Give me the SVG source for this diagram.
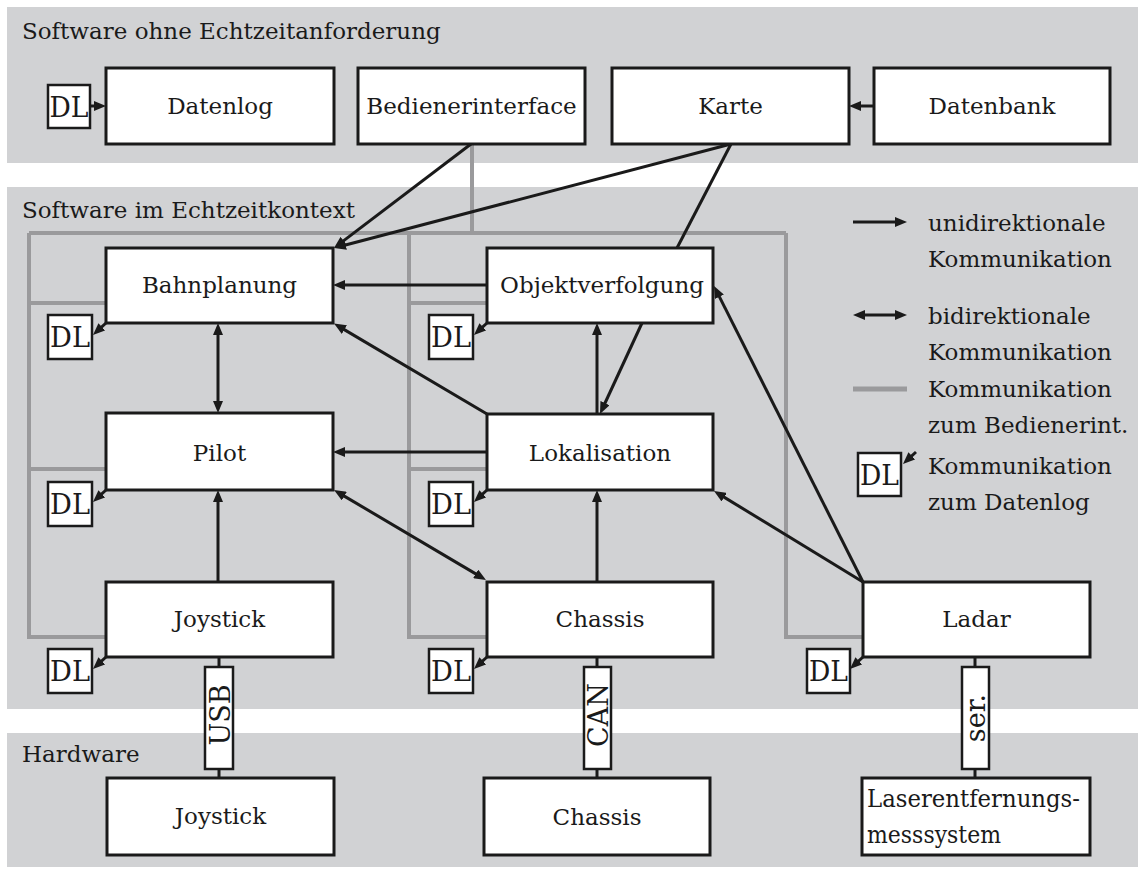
<svg xmlns="http://www.w3.org/2000/svg" width="1138" height="873" viewBox="0 0 1138 873">
<defs>
<style>
.band{fill:#d1d2d4}
.box{fill:#fff;stroke:#1a1a1a;stroke-width:3}
.dl{fill:#fff;stroke:#1a1a1a;stroke-width:2.5}
.t{font-family:"DejaVu Serif","Liberation Serif",serif;font-size:23px;fill:#1a1a1a}
.c{text-anchor:middle}
.dlt{font-family:"DejaVu Serif","Liberation Serif",serif;font-size:28px;fill:#1a1a1a;text-anchor:middle}
.vt{font-family:"DejaVu Serif","Liberation Serif",serif;font-size:27px;fill:#1a1a1a;text-anchor:middle}
.a{stroke:#1a1a1a;stroke-width:3;fill:none}
.g{stroke:#9a9a9c;stroke-width:4;fill:none}
</style>
<marker id="ah" viewBox="0 0 12 10" refX="6" refY="5" markerWidth="12" markerHeight="10" markerUnits="userSpaceOnUse" orient="auto-start-reverse"><path d="M0,0 L12,5 L0,10 z" fill="#1a1a1a"/></marker>
</defs>

<g id="bands">
<rect class="band" x="7" y="7" width="1131" height="156"/>
<rect class="band" x="7" y="187" width="1131" height="522"/>
<rect class="band" x="7" y="733" width="1131" height="134"/>
<text class="t" x="22" y="39">Software ohne Echtzeitanforderung</text>
<text class="t" x="22" y="218">Software im Echtzeitkontext</text>
<text class="t" x="22" y="762">Hardware</text>
</g>

<g id="gray-connectors">
<path class="g" d="M472,144 V233 M29,233 H786 M29,233 V637 H106 M409,233 V637 H487 M786,233 V637 H863 M29,303 H106 M29,469 H106 M409,303 H487 M409,469 H487"/>
</g>

<g id="connectors">
<line class="a" x1="90" y1="106" x2="100" y2="106" marker-end="url(#ah)"/>
<line class="a" x1="874" y1="106" x2="855" y2="106" marker-end="url(#ah)"/>
<line class="a" x1="471" y1="144" x2="338.8" y2="244.4" marker-end="url(#ah)"/>
<line class="a" x1="731" y1="144" x2="339.8" y2="246.5" marker-end="url(#ah)"/>
<line class="a" x1="731" y1="144" x2="677" y2="248"/>
<line class="a" x1="487" y1="285" x2="339" y2="285" marker-end="url(#ah)"/>
<line class="a" x1="487" y1="414" x2="339.2" y2="326.6" marker-end="url(#ah)"/>
<line class="a" x1="218" y1="329" x2="218" y2="407" marker-start="url(#ah)" marker-end="url(#ah)"/>
<line class="a" x1="487" y1="452" x2="339" y2="452" marker-end="url(#ah)"/>
<line class="a" x1="597" y1="414" x2="597" y2="329" marker-end="url(#ah)"/>
<line class="a" x1="642" y1="323" x2="602.5" y2="408.5" marker-end="url(#ah)"/>
<line class="a" x1="218" y1="582" x2="218" y2="496" marker-end="url(#ah)"/>
<line class="a" x1="339.2" y1="493.1" x2="480.8" y2="576.9" marker-start="url(#ah)" marker-end="url(#ah)"/>
<line class="a" x1="597" y1="582" x2="597" y2="496" marker-end="url(#ah)"/>
<line class="a" x1="863" y1="582" x2="719.1" y2="494.1" marker-end="url(#ah)"/>
<line class="a" x1="863" y1="582" x2="716.7" y2="291.4" marker-end="url(#ah)"/>
<line class="a" x1="106" y1="323" x2="97.4" y2="330.9" marker-end="url(#ah)"/>
<line class="a" x1="106" y1="490" x2="97.4" y2="497.9" marker-end="url(#ah)"/>
<line class="a" x1="106" y1="657" x2="97.4" y2="664.9" marker-end="url(#ah)"/>
<line class="a" x1="487" y1="323" x2="478.4" y2="330.9" marker-end="url(#ah)"/>
<line class="a" x1="487" y1="490" x2="478.4" y2="497.9" marker-end="url(#ah)"/>
<line class="a" x1="487" y1="657" x2="478.4" y2="664.9" marker-end="url(#ah)"/>
<line class="a" x1="863" y1="657" x2="854.4" y2="664.9" marker-end="url(#ah)"/>
<path class="a" d="M219,657 V667 M219,769 V778 M597,657 V667 M597,769 V778 M975,657 V667 M975,769 V778"/>
</g>

<g id="dl-top"><rect class="dl" x="48" y="85" width="42" height="43"/><text class="dlt" x="69" y="117" textLength="39" lengthAdjust="spacingAndGlyphs">DL</text></g>
<g id="datenlog"><rect class="box" x="106" y="68" width="228" height="76"/><text class="t c" x="220" y="114">Datenlog</text></g>
<g id="bedienerinterface"><rect class="box" x="358" y="68" width="227" height="76"/><text class="t c" x="471.5" y="114">Bedienerinterface</text></g>
<g id="karte"><rect class="box" x="612" y="68" width="237" height="76"/><text class="t c" x="730.5" y="114">Karte</text></g>
<g id="datenbank"><rect class="box" x="874" y="68" width="236" height="76"/><text class="t c" x="992" y="114">Datenbank</text></g>

<g id="bahnplanung"><rect class="box" x="106" y="248" width="227" height="75"/><text class="t c" x="219.5" y="293">Bahnplanung</text></g>
<g id="dl-bahnplanung"><rect class="dl" x="48" y="315" width="44" height="44"/><text class="dlt" x="70" y="347" textLength="40" lengthAdjust="spacingAndGlyphs">DL</text></g>
<g id="objektverfolgung"><rect class="box" x="487" y="248" width="226" height="75"/><text class="t c" x="602" y="293">Objektverfolgung</text></g>
<g id="dl-objektverfolgung"><rect class="dl" x="429" y="315" width="44" height="44"/><text class="dlt" x="451" y="347" textLength="40" lengthAdjust="spacingAndGlyphs">DL</text></g>

<g id="pilot"><rect class="box" x="106" y="413" width="227" height="77"/><text class="t c" x="219.5" y="461">Pilot</text></g>
<g id="dl-pilot"><rect class="dl" x="48" y="482" width="44" height="44"/><text class="dlt" x="70" y="514" textLength="40" lengthAdjust="spacingAndGlyphs">DL</text></g>
<g id="lokalisation"><rect class="box" x="487" y="414" width="226" height="76"/><text class="t c" x="600" y="461">Lokalisation</text></g>
<g id="dl-lokalisation"><rect class="dl" x="429" y="482" width="44" height="44"/><text class="dlt" x="451" y="514" textLength="40" lengthAdjust="spacingAndGlyphs">DL</text></g>

<g id="joystick"><rect class="box" x="106" y="582" width="227" height="75"/><text class="t c" x="219.5" y="627">Joystick</text></g>
<g id="dl-joystick"><rect class="dl" x="48" y="649" width="44" height="44"/><text class="dlt" x="70" y="681" textLength="40" lengthAdjust="spacingAndGlyphs">DL</text></g>
<g id="chassis"><rect class="box" x="487" y="582" width="226" height="75"/><text class="t c" x="600" y="627">Chassis</text></g>
<g id="dl-chassis"><rect class="dl" x="429" y="649" width="44" height="44"/><text class="dlt" x="451" y="681" textLength="40" lengthAdjust="spacingAndGlyphs">DL</text></g>
<g id="ladar"><rect class="box" x="863" y="582" width="227" height="75"/><text class="t c" x="976.5" y="627">Ladar</text></g>
<g id="dl-ladar"><rect class="dl" x="807" y="649" width="43" height="44"/><text class="dlt" x="828.5" y="681" textLength="39" lengthAdjust="spacingAndGlyphs">DL</text></g>

<g id="usb"><rect class="dl" x="205" y="667" width="28" height="102"/><text class="vt" transform="translate(229.5,715) rotate(-90)">USB</text></g>
<g id="can"><rect class="dl" x="584" y="667" width="27" height="102"/><text class="vt" transform="translate(607.5,715) rotate(-90)">CAN</text></g>
<g id="ser"><rect class="dl" x="962" y="667" width="27" height="102"/><text class="vt" transform="translate(985,718) rotate(-90)">ser.</text></g>

<g id="hw-joystick"><rect class="box" x="107" y="778" width="227" height="77"/><text class="t c" x="220.5" y="824">Joystick</text></g>
<g id="hw-chassis"><rect class="box" x="484" y="778" width="226" height="77"/><text class="t c" x="597" y="825">Chassis</text></g>
<g id="hw-laser"><rect class="box" x="862" y="778" width="228" height="77"/><text class="t" x="867" y="807" style="font-size:25px" textLength="213" lengthAdjust="spacingAndGlyphs">Laserentfernungs-</text><text class="t" x="867" y="843" style="font-size:25px" textLength="134" lengthAdjust="spacingAndGlyphs">messsystem</text></g>

<g id="legend">
<line class="a" x1="853" y1="222" x2="901" y2="222" marker-end="url(#ah)"/>
<text class="t" x="928" y="231">unidirektionale</text>
<text class="t" x="928" y="267">Kommunikation</text>
<line class="a" x1="859" y1="315" x2="901" y2="315" marker-start="url(#ah)" marker-end="url(#ah)"/>
<text class="t" x="928" y="324">bidirektionale</text>
<text class="t" x="928" y="360">Kommunikation</text>
<line class="g" x1="853" y1="389" x2="907" y2="389" style="stroke-width:5"/>
<text class="t" x="928" y="397">Kommunikation</text>
<text class="t" x="928" y="433">zum Bedienerint.</text>
<rect class="dl" x="858" y="453" width="43" height="43"/><text class="dlt" x="879.5" y="485" textLength="39" lengthAdjust="spacingAndGlyphs">DL</text>
<line class="a" x1="916" y1="452" x2="907.4" y2="459.9" marker-end="url(#ah)"/>
<text class="t" x="928" y="474">Kommunikation</text>
<text class="t" x="928" y="510">zum Datenlog</text>
</g>
</svg>
